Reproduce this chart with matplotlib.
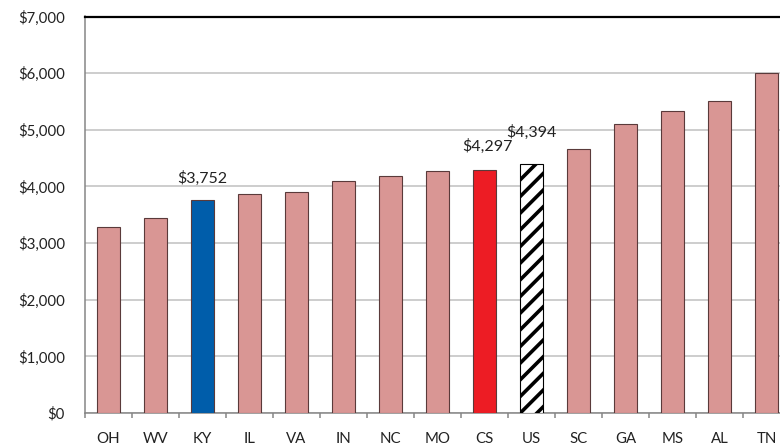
import numpy as np
import matplotlib.pyplot as plt
from matplotlib.ticker import FuncFormatter

plt.rcParams['font.family'] = ['Lato', 'DejaVu Sans']
plt.rcParams['hatch.linewidth'] = 2.6

states = ['OH', 'WV', 'KY', 'IL', 'VA', 'IN', 'NC', 'MO', 'CS', 'US', 'SC', 'GA', 'MS', 'AL', 'TN']
values = [3275, 3445, 3752, 3860, 3910, 4090, 4180, 4270, 4297, 4394, 4660, 5110, 5330, 5510, 6010]
labeled = {'KY': '$3,752', 'CS': '$4,297', 'US': '$4,394'}

pink = '#d99694'
colors = [pink] * len(states)
colors[states.index('KY')] = '#005daa'
colors[states.index('CS')] = '#ed1c24'

fig = plt.figure(figsize=(7.8, 4.47), dpi=100)
ax = fig.add_axes([85 / 780, 34 / 447, 705 / 780, 396.5 / 447])

x = np.arange(len(states))
bars = ax.bar(x, values, width=0.51, color=colors, edgecolor='#5a3a3a', linewidth=0.8, zorder=3)

us = bars[states.index('US')]
us.set_facecolor('white')
us.set_hatch('//')
us.set_edgecolor('black')

# data labels, placed by hand like the original
offsets = {'KY': (0, 15.8), 'CS': (2, 16.5), 'US': (0, 23)}
for name, text in labeled.items():
    i = states.index(name)
    dx, dy = offsets[name]
    ax.annotate(text, (x[i], values[i]), xytext=(dx, dy), textcoords='offset points',
                ha='center', va='center', fontsize=11.5, color='#222222')

ax.set_xlim(-0.5, len(states) - 0.5)
ax.set_ylim(0, 7000)
ax.set_yticks(np.arange(0, 7001, 1000))
ax.yaxis.set_major_formatter(FuncFormatter(lambda v, p: '${:,.0f}'.format(v)))
ax.set_xticks(x)
ax.set_xticklabels(states)
ax.set_xticks(np.arange(-0.5, len(states), 1), minor=True)

ax.grid(axis='y', color='#c0c0c0', linewidth=1.1, zorder=0)
ax.tick_params(axis='y', length=0, pad=14.4, labelsize=10.8, labelcolor='#222222')
ax.tick_params(axis='x', which='major', length=0, pad=14, labelsize=10.8, labelcolor='#222222')
ax.tick_params(axis='x', which='minor', length=3.6, width=1.1, color='#868686')

ax.spines['right'].set_visible(False)
ax.spines['top'].set_color('black')
ax.spines['top'].set_linewidth(1.6)
ax.spines['left'].set_color('#868686')
ax.spines['left'].set_linewidth(1.1)
ax.spines['bottom'].set_color('#868686')
ax.spines['bottom'].set_linewidth(1.1)

fig.savefig('out.png', dpi=100)
